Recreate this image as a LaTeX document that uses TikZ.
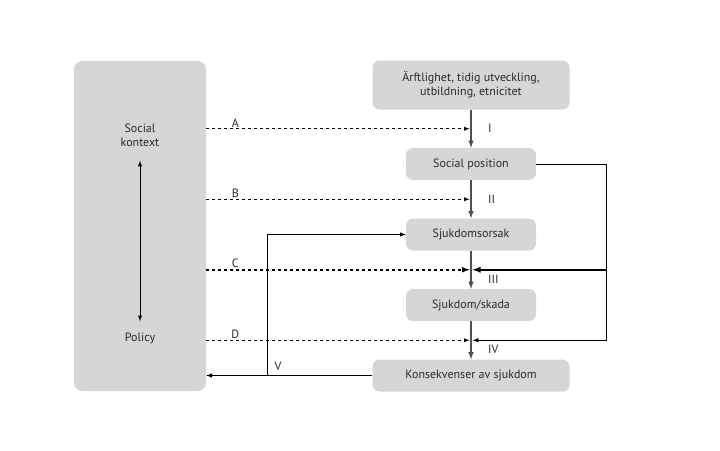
\documentclass[tikz,border=0pt]{standalone}
\usepackage{fontspec}
\setmainfont{PT Sans}
\usepackage{xcolor}
\usetikzlibrary{arrows,positioning}

\definecolor{boxgray}{HTML}{D6D6D8}
\definecolor{textgray}{HTML}{2A2A2A}
\definecolor{chaingray}{HTML}{505050}

\begin{document}
\begin{tikzpicture}[
    x=1pt, y=-1pt,
    node distance=70.5pt,
    font=\fontsize{12}{14}\selectfont,
    box/.style={rectangle, rounded corners=7pt, fill=boxgray, text=textgray, minimum width=130pt, minimum height=32pt, align=center},
    wide/.style={minimum width=197pt},
    panel/.style={rectangle, rounded corners=8pt, fill=boxgray, minimum width=132pt, minimum height=330pt},
    tag/.style={text=textgray, inner sep=1pt},
    arrow/.style={->, >=latex, line width=1pt},
    chain/.style={->, >=latex, line width=1.5pt, chaingray},
    policy/.style={->, >=latex, dashed, line width=0.9pt, shorten >=1.5pt},
]
    \useasboundingbox (0,0) rectangle (720,450);

    % left panel
    \node[panel] (context) at (140,226) {};
    \node[tag, align=center] (social) at (140,135) {Social\\kontext};
    \node[tag] (policylbl) at (140,338) {Policy};
    \draw[<->, >=latex, line width=1pt, shorten <=13pt, shorten >=10pt] (social) -- (policylbl);

    % causal chain
    \node[box, wide, minimum height=49pt] (heredity) at (471,85) {Ärftlighet, tidig utveckling,\\utbildning, etnicitet};
    \node[box, below of=heredity, node distance=79pt] (position) {Social position};
    \node[box, below of=position] (cause) {Sjukdomsorsak};
    \node[box, below of=cause] (illness) {Sjukdom/skada};
    \node[box, wide, below of=illness] (consequence) {Konsekvenser av sjukdom};

    \draw[chain] (heredity) -- coordinate[midway] (jA) (position);
    \draw[chain] (position) -- coordinate[midway] (jB) (cause);
    \draw[chain] (cause) -- coordinate[midway] (jC) (illness);
    \draw[chain] (illness) -- coordinate[midway] (jD) (consequence);

    \node[tag, right=16pt of jA] {I};
    \node[tag, right=16pt of jB] {II};
    \node[tag, right=16pt of jC, yshift=-10pt] {III};
    \node[tag, right=16pt of jD, yshift=-9pt] {IV};

    % policy entry points
    \draw[policy] (context.east |- jA) -- node[tag, above, pos=0.11] {A} (jA);
    \draw[policy] (context.east |- jB) -- node[tag, above, pos=0.11] {B} (jB);
    \draw[policy, line width=1.5pt] (context.east |- jC) -- node[tag, above, pos=0.11] {C} (jC);
    \draw[policy] (context.east |- jD) -- node[tag, above, pos=0.11] {D} (jD);

    % social position feeds forward
    \coordinate[right=70pt of position.east] (rtop);
    \draw[arrow, shorten >=1.5pt] (position.east) -- (rtop) |- (jD);
    \draw[arrow, line width=1.8pt, shorten >=1.5pt] (rtop |- jC) -- (jC);

    % feedback V
    \coordinate[left=105pt of consequence.west] (vfork);
    \draw[arrow] (consequence.west) -- (context.east |- consequence.west);
    \draw[arrow] (vfork) |- (cause.west);
    \node[tag, above right=4pt and 6pt of vfork] {V};
\end{tikzpicture}
\end{document}
